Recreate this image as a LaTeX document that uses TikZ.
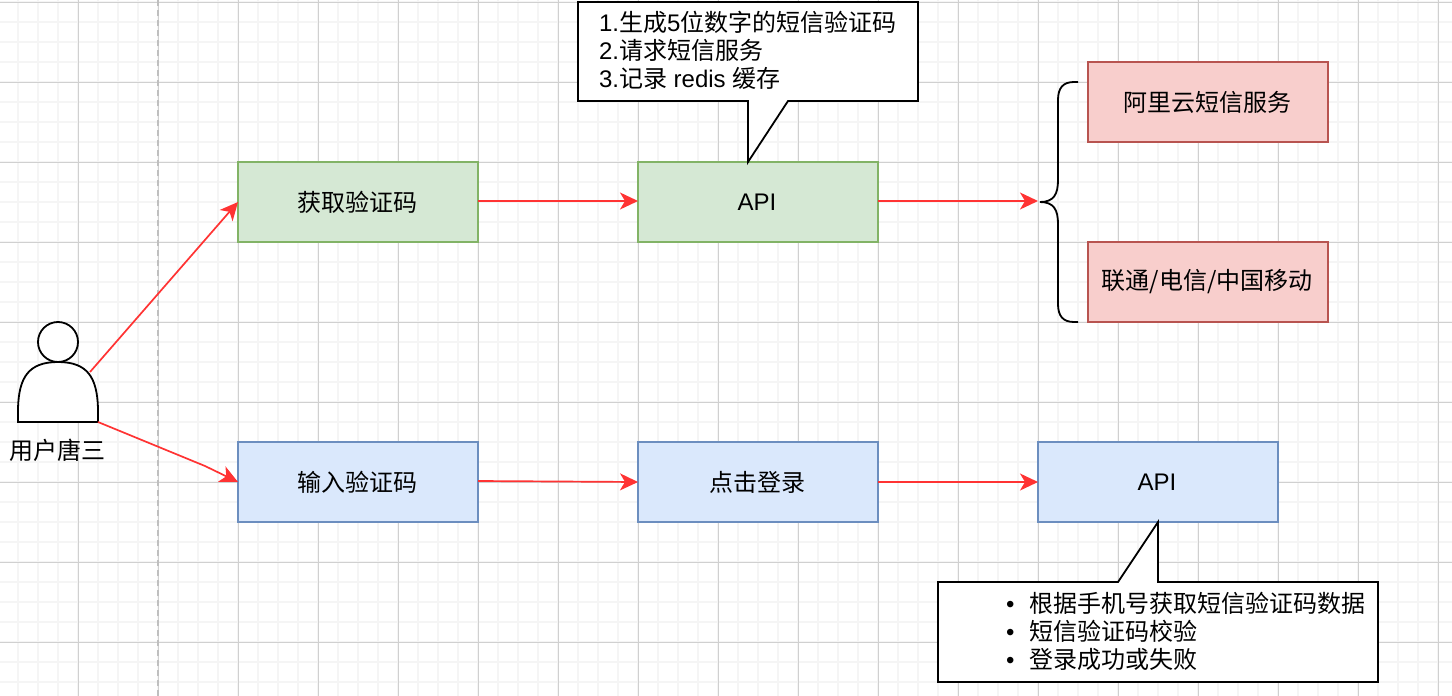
\documentclass[tikz,border=0pt]{standalone}
\usepackage{fontspec}
\setmainfont{Liberation Sans}
\newfontfamily\cjk{Noto Sans CJK SC}
\usetikzlibrary{arrows.meta,calc}
\definecolor{redline}{HTML}{FF3333}
\definecolor{gridminor}{HTML}{F5F5F5}
\definecolor{gridmajor}{HTML}{D0D0D0}
\definecolor{gfill}{HTML}{D5E8D4}\definecolor{gedge}{HTML}{82B366}
\definecolor{rfill}{HTML}{F8CECC}\definecolor{redge}{HTML}{B85450}
\definecolor{bfill}{HTML}{DAE8FC}\definecolor{bedge}{HTML}{6C8EBF}
\newcommand{\bulitem}[1]{\llap{\textbullet\hspace{15pt}}{\cjk #1}}
\tikzset{
  box/.style={draw,line width=1.6pt,minimum width=240pt,minimum height=80pt,inner sep=0pt,outer sep=0pt,anchor=north west,font=\fontsize{24}{28}\selectfont,execute at begin node=\hspace*{-2pt}},
  gbox/.style={box,fill=gfill,draw=gedge},
  rbox/.style={box,fill=rfill,draw=redge},
  bbox/.style={box,fill=bfill,draw=bedge},
  flow/.style={draw=redline,line width=1.7pt,-{Stealth[length=18pt,width=17pt,inset=5pt]}},
  callout/.style={draw=black,fill=white,line width=1.8pt,line join=miter},
  txt/.style={inner sep=0pt,outer sep=0pt,font=\fontsize{24}{28}\selectfont,align=left},
  blk/.style={draw=black,line width=1.8pt}
}
\begin{document}
\begin{tikzpicture}[x=1pt,y=-1pt]
\useasboundingbox (0,0) rectangle (1452,696);
\fill[white] (0,0) rectangle (1452,696);
% grid
\foreach \i in {0,...,72} {\draw[gridminor,line width=2pt] (18+20*\i-20,0) -- (18+20*\i-20,696);}
\foreach \i in {0,...,35} {\draw[gridminor,line width=2pt] (0,2+20*\i) -- (1452,2+20*\i);}
\foreach \i in {0,...,18} {\draw[gridmajor,line width=1pt] (78+80*\i-80,0) -- (78+80*\i-80,696);}
\foreach \i in {0,...,8} {\draw[gridmajor,line width=1pt] (0,2+80*\i) -- (1452,2+80*\i);}
\draw[color=black!25,line width=1.5pt,dash pattern=on 6pt off 4pt] (158,0) -- (158,696);
% boxes
\node[gbox] (get) at (238,162) {\cjk 获取验证码};
\node[gbox] (api1) at (638,162) {API};
\node[rbox] (ali) at (1088,62) {\cjk 阿里云短信服务};
\node[rbox] (tel) at (1088,242) {\cjk 联通/电信/中国移动};
\node[bbox] (input) at (238,442) {\cjk 输入验证码};
\node[bbox] (click) at (638,442) {\cjk 点击登录};
\node[bbox] (api2) at (1038,442) {API};
% callouts
\draw[callout] (578,2) -- (918,2) -- (918,101) -- (788,101) -- ($(api1.north)+(-10,0)$) -- (748,101) -- (578,101) -- cycle;
\node[txt,anchor=north west] (note1) at (599,11.5) {1.{\cjk 生成}5{\cjk 位数字的短信验证码}\\2.{\cjk 请求短信服务}\\3.{\cjk 记录} redis {\cjk 缓存}};
\draw[callout] (938,582) -- (1118,582) -- (api2.south) -- (1158,582) -- (1378,582) -- (1378,682) -- (938,682) -- cycle;
\node[txt,anchor=north west] (note2) at (1029.5,592) {\bulitem{根据手机号获取短信验证码数据}\\\bulitem{短信验证码校验}\\\bulitem{登录成功或失败}};
% actor
\draw[blk,fill=white] (58,342) circle (20pt);
\draw[blk,fill=white] (18,422) -- (18,408) .. controls (19,378) and (28,362) .. (58,362) .. controls (88,362) and (97,378) .. (98,408) -- (98,422) -- cycle;
\coordinate (actorTop) at (90,372);
\coordinate (actorBottom) at (98,422);
\coordinate (bend) at (205,466);
\node[txt,anchor=center] (actorLabel) at (57.5,450.5) {\cjk 用户唐三};
% brace
\coordinate (braceTip) at (1040,202);
\coordinate (braceTop) at (1078,82);
\coordinate (braceBottom) at (1078,322);
\draw[blk] (braceTop) -- (1074,82) .. controls (1063,82) and (1058,88) .. (1058,100) -- (1058,180) .. controls (1058,194) and (1054,202) .. (braceTip);
\draw[blk] (braceBottom) -- (1074,322) .. controls (1063,322) and (1058,316) .. (1058,304) -- (1058,224) .. controls (1058,210) and (1054,202) .. (braceTip);
% connectors
\draw[flow] (actorTop) -- (get.west);
\draw[flow] (actorBottom) -- (bend) -- (input.west);
\draw[flow] ($(get.east)+(0,-1)$) -- ($(api1.west)+(0,-1)$);
\draw[flow] ($(api1.east)+(0,-1)$) -- ($(braceTip)+(-2,-1)$);
\draw[flow] ($(input.east)+(0,-1)$) -- (click.west);
\draw[flow] (click.east) -- (api2.west);
\end{tikzpicture}
\end{document}
